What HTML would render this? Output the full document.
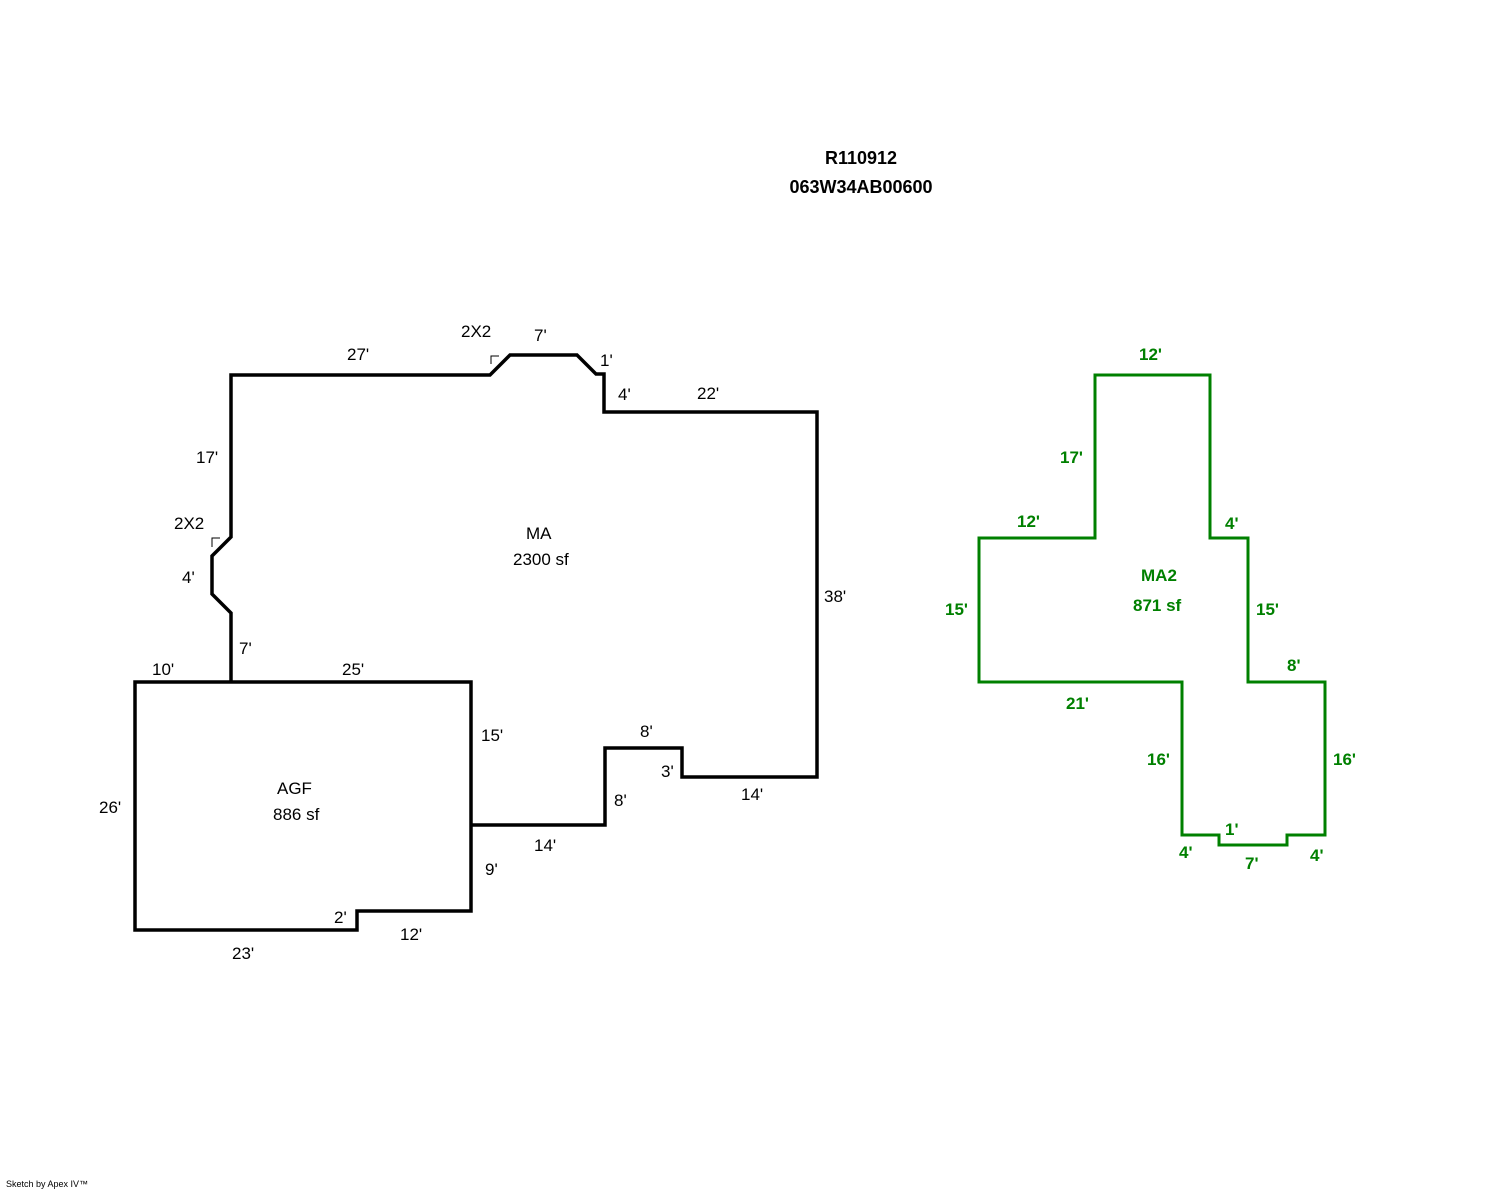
<!DOCTYPE html>
<html><head><meta charset="utf-8"><style>
html,body{margin:0;padding:0;background:#fff;width:1488px;height:1190px;overflow:hidden}
svg{display:block}
text{font-family:"Liberation Sans",Arial,sans-serif;font-size:17px}
</style></head><body>
<svg width="1488" height="1190" viewBox="0 0 1488 1190" xmlns="http://www.w3.org/2000/svg">
<g fill="none" stroke="#000" stroke-width="3.5" stroke-linejoin="miter">
<polyline points="231,682 231,613 212,594 212,556 231,537 231,375 490,375 510,355 577,355 596,374 604,374 604,412 817,412 817,777 682,777 682,748 605,748 605,825 471,825"/>
<polygon points="135,682 471,682 471,911 357,911 357,930 135,930"/>
</g>
<g fill="none" stroke="#000" stroke-width="1">
<polyline points="491,364 491,356 499,356"/>
<polyline points="212,547 212,538 220,538"/>
</g>
<polygon fill="none" stroke="#008000" stroke-width="3" points="1095,375 1210,375 1210,538 1248,538 1248,682 1325,682 1325,835 1287,835 1287,845 1219,845 1219,835 1182,835 1182,682 979,682 979,538 1095,538"/>
<g fill="#000" font-weight="bold" text-anchor="middle">
<text x="861" y="164" style="font-size:18px">R110912</text>
<text x="861" y="193" style="font-size:18px">063W34AB00600</text>
</g>
<g fill="#000">
<text x="347" y="360">27'</text>
<text x="461" y="337">2X2</text>
<text x="534" y="341">7'</text>
<text x="600" y="366">1'</text>
<text x="618" y="400">4'</text>
<text x="697" y="399">22'</text>
<text x="196" y="463">17'</text>
<text x="174" y="529">2X2</text>
<text x="182" y="583">4'</text>
<text x="239" y="654">7'</text>
<text x="152" y="675">10'</text>
<text x="342" y="675">25'</text>
<text x="824" y="602">38'</text>
<text x="526" y="539">MA</text>
<text x="513" y="565">2300 sf</text>
<text x="481" y="741">15'</text>
<text x="640" y="737">8'</text>
<text x="661" y="777">3'</text>
<text x="741" y="800">14'</text>
<text x="614" y="806">8'</text>
<text x="534" y="851">14'</text>
<text x="485" y="875">9'</text>
<text x="99" y="813">26'</text>
<text x="277" y="794">AGF</text>
<text x="273" y="820">886 sf</text>
<text x="334" y="923">2'</text>
<text x="400" y="940">12'</text>
<text x="232" y="959">23'</text>
</g>
<g fill="#008000" font-weight="bold">
<text x="1139" y="360">12'</text>
<text x="1060" y="463">17'</text>
<text x="1017" y="527">12'</text>
<text x="1225" y="529">4'</text>
<text x="1141" y="581">MA2</text>
<text x="1133" y="611">871 sf</text>
<text x="945" y="615">15'</text>
<text x="1256" y="615">15'</text>
<text x="1287" y="671">8'</text>
<text x="1066" y="709">21'</text>
<text x="1147" y="765">16'</text>
<text x="1333" y="765">16'</text>
<text x="1225" y="835">1'</text>
<text x="1179" y="858">4'</text>
<text x="1245" y="869">7'</text>
<text x="1310" y="861">4'</text>
</g>
<text x="6" y="1187" fill="#000" style="font-size:9px">Sketch by Apex IV™</text>
</svg>
</body></html>
